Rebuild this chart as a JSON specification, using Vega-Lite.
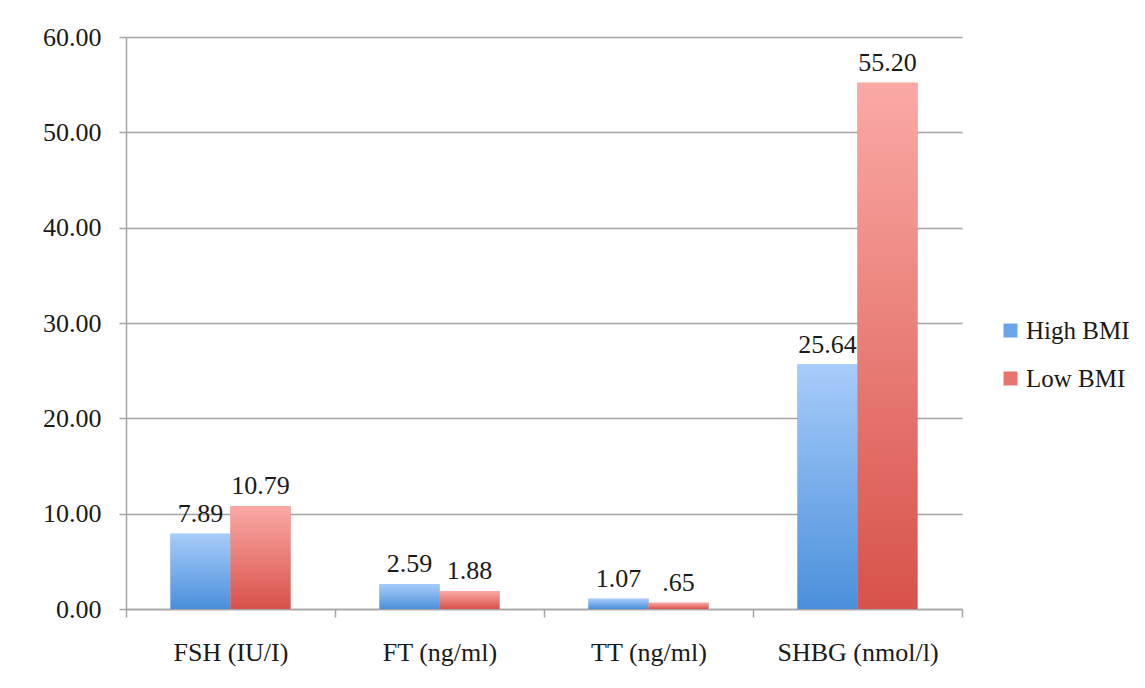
{
  "$schema": "https://vega.github.io/schema/vega-lite/v6.json",
  "autosize": "none",
  "padding": {"left": 126, "top": 37, "right": 183, "bottom": 79},
  "width": 836,
  "height": 572,
  "background": "white",
  "config": {
    "view": {"stroke": null},
    "font": "Liberation Serif",
    "axis": {"labelFont": "Liberation Serif", "labelColor": "#1a1a1a", "domainColor": "#a5a5a5", "tickColor": "#a5a5a5", "gridColor": "#a5a5a5", "domainWidth": 1.5, "tickWidth": 1.5, "gridWidth": 1.5},
    "legend": {"labelFont": "Liberation Serif", "labelColor": "#1a1a1a"}
  },
  "data": {
    "values": [
      {"cat": "FSH (IU/I)", "group": "High BMI", "value": 7.89, "label": "7.89"},
      {"cat": "FSH (IU/I)", "group": "Low BMI", "value": 10.79, "label": "10.79"},
      {"cat": "FT (ng/ml)", "group": "High BMI", "value": 2.59, "label": "2.59"},
      {"cat": "FT (ng/ml)", "group": "Low BMI", "value": 1.88, "label": "1.88"},
      {"cat": "TT (ng/ml)", "group": "High BMI", "value": 1.07, "label": "1.07"},
      {"cat": "TT (ng/ml)", "group": "Low BMI", "value": 0.65, "label": ".65"},
      {"cat": "SHBG (nmol/l)", "group": "High BMI", "value": 25.64, "label": "25.64"},
      {"cat": "SHBG (nmol/l)", "group": "Low BMI", "value": 55.20, "label": "55.20"}
    ]
  },
  "encoding": {
    "x": {
      "field": "cat", "type": "nominal", "sort": null, "title": null,
      "scale": {"paddingInner": 0, "paddingOuter": 0},
      "axis": {"labelAngle": 0, "labelFontSize": 26, "labelPadding": 22, "tickSize": 8, "tickBand": "extent", "grid": false}
    },
    "xOffset": {"field": "group", "type": "nominal", "scale": {"paddingInner": 0, "paddingOuter": 0.742}},
    "y": {
      "field": "value", "type": "quantitative", "title": null,
      "scale": {"domain": [0, 60], "nice": false},
      "axis": {"values": [0, 10, 20, 30, 40, 50, 60], "format": ".2f", "labelFontSize": 26, "tickSize": 7, "labelPadding": 18, "grid": true}
    }
  },
  "layer": [
    {
      "mark": {"type": "bar"},
      "encoding": {
        "color": {
          "field": "group", "type": "nominal", "title": null,
          "scale": {"domain": ["High BMI", "Low BMI"], "range": ["#6aa5ea", "#e8756d"]},
          "legend": {"orient": "none", "legendX": 872, "legendY": 281, "symbolType": "square", "symbolSize": 196, "symbolStrokeWidth": 0, "labelFontSize": 25, "rowPadding": 22, "labelOffset": 3}
        }
      }
    },
    {
      "transform": [{"filter": "datum.group === 'High BMI'"}],
      "mark": {"type": "bar", "color": {"gradient": "linear", "x1": 0, "y1": 0, "x2": 0, "y2": 1, "stops": [{"offset": 0, "color": "#a7ccfa"}, {"offset": 1, "color": "#4a8fdb"}]}},
      "encoding": {}
    },
    {
      "transform": [{"filter": "datum.group === 'Low BMI'"}],
      "mark": {"type": "bar", "color": {"gradient": "linear", "x1": 0, "y1": 0, "x2": 0, "y2": 1, "stops": [{"offset": 0, "color": "#fba9a5"}, {"offset": 1, "color": "#d7524a"}]}},
      "encoding": {}
    },
    {
      "mark": {"type": "text", "baseline": "bottom", "dy": -7, "fontSize": 26, "color": "#1a1a1a"},
      "encoding": {"text": {"field": "label", "type": "nominal"}}
    }
  ]
}
